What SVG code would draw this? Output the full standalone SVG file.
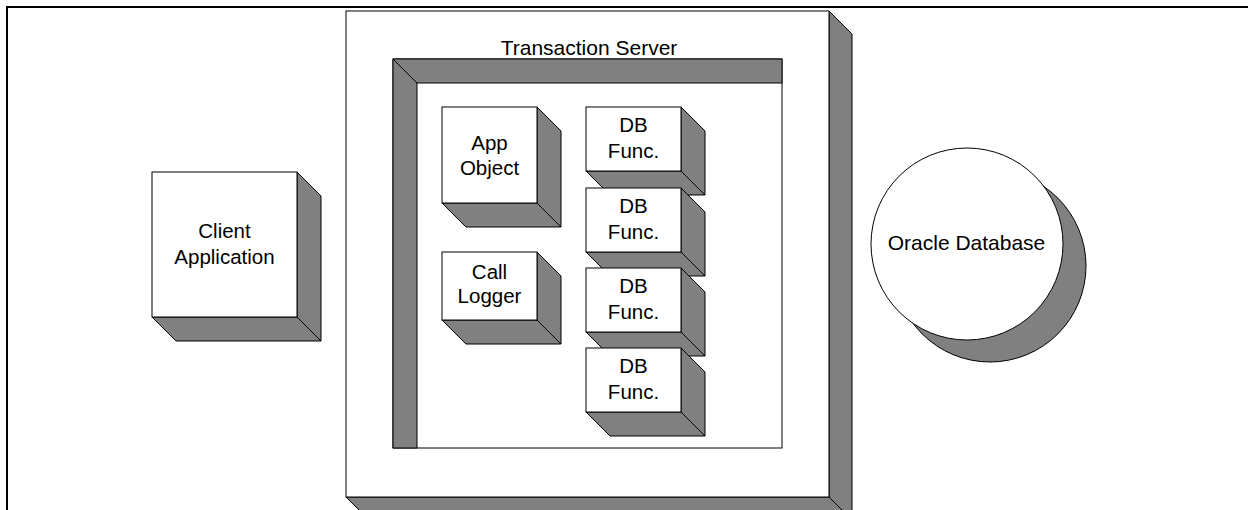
<svg xmlns="http://www.w3.org/2000/svg" width="1248" height="510" viewBox="0 0 1248 510">
<style>
.face{fill:#ffffff;stroke:#000000;stroke-width:1}
.shade{fill:#808080;stroke:#000000;stroke-width:1;stroke-linejoin:miter}
.edge{fill:none;stroke:#000000;stroke-width:1}
.lbl{font-family:"Liberation Sans",Arial,sans-serif;font-size:20.5px;fill:#000000;text-anchor:middle}
.big{font-size:21px}
</style>
<rect x="0" y="0" width="1248" height="510" fill="#ffffff"/>
<path d="M7,510 V7 H1248" fill="none" stroke="#000000" stroke-width="2"/>

<g id="transaction-server">
  <polygon class="shade" points="829,11 852,34 852,520 369,520 346,497 829,497"/>
  <line class="edge" x1="829" y1="497" x2="852" y2="520"/>
  <rect class="face" x="346" y="11" width="483" height="486"/>
  <text class="lbl big" x="589" y="55">Transaction Server</text>
</g>

<g id="container-frame">
  <rect class="face" x="393" y="59" width="389" height="389"/>
  <polygon class="shade" points="393,59 782,59 782,83 417,83 417,448 393,448"/>
  <line class="edge" x1="393" y1="59" x2="417" y2="83"/>
</g>

<g id="client-application">
  <polygon class="shade" points="297,172 321,196 321,341 176,341 152,317 297,317"/>
  <line class="edge" x1="297" y1="317" x2="321" y2="341"/>
  <rect class="face" x="152" y="172" width="145" height="145"/>
  <text class="lbl" x="224.5" y="238">Client</text>
  <text class="lbl" x="224.5" y="264">Application</text>
</g>

<g id="app-object">
  <polygon class="shade" points="537,107 561,131 561,227 466,227 442,203 537,203"/>
  <line class="edge" x1="537" y1="203" x2="561" y2="227"/>
  <rect class="face" x="442" y="107" width="95" height="96"/>
  <text class="lbl" x="489.5" y="150">App</text>
  <text class="lbl" x="489.5" y="175">Object</text>
</g>

<g id="call-logger">
  <polygon class="shade" points="537,252 561,276 561,344 466,344 442,320 537,320"/>
  <line class="edge" x1="537" y1="320" x2="561" y2="344"/>
  <rect class="face" x="442" y="252" width="95" height="68"/>
  <text class="lbl" x="489.5" y="279">Call</text>
  <text class="lbl" x="489.5" y="303">Logger</text>
</g>

<g id="db-func-1">
  <polygon class="shade" points="681,107 705,131 705,195 610,195 586,171 681,171"/>
  <line class="edge" x1="681" y1="171" x2="705" y2="195"/>
  <rect class="face" x="586" y="107" width="95" height="64"/>
  <text class="lbl" x="633.5" y="132">DB</text>
  <text class="lbl" x="633.5" y="158">Func.</text>
</g>

<g id="db-func-2">
  <polygon class="shade" points="681,188 705,212 705,276 610,276 586,252 681,252"/>
  <line class="edge" x1="681" y1="252" x2="705" y2="276"/>
  <rect class="face" x="586" y="188" width="95" height="64"/>
  <text class="lbl" x="633.5" y="213">DB</text>
  <text class="lbl" x="633.5" y="239">Func.</text>
</g>

<g id="db-func-3">
  <polygon class="shade" points="681,268 705,292 705,356 610,356 586,332 681,332"/>
  <line class="edge" x1="681" y1="332" x2="705" y2="356"/>
  <rect class="face" x="586" y="268" width="95" height="64"/>
  <text class="lbl" x="633.5" y="293">DB</text>
  <text class="lbl" x="633.5" y="319">Func.</text>
</g>

<g id="db-func-4">
  <polygon class="shade" points="681,348 705,372 705,436 610,436 586,412 681,412"/>
  <line class="edge" x1="681" y1="412" x2="705" y2="436"/>
  <rect class="face" x="586" y="348" width="95" height="64"/>
  <text class="lbl" x="633.5" y="373">DB</text>
  <text class="lbl" x="633.5" y="399">Func.</text>
</g>

<g id="oracle-database">
  <circle class="shade" cx="990" cy="266" r="96"/>
  <circle class="face" cx="967" cy="244" r="96"/>
  <text class="lbl big" x="966.5" y="250">Oracle Database</text>
</g>

<g id="connectors"></g>
</svg>
